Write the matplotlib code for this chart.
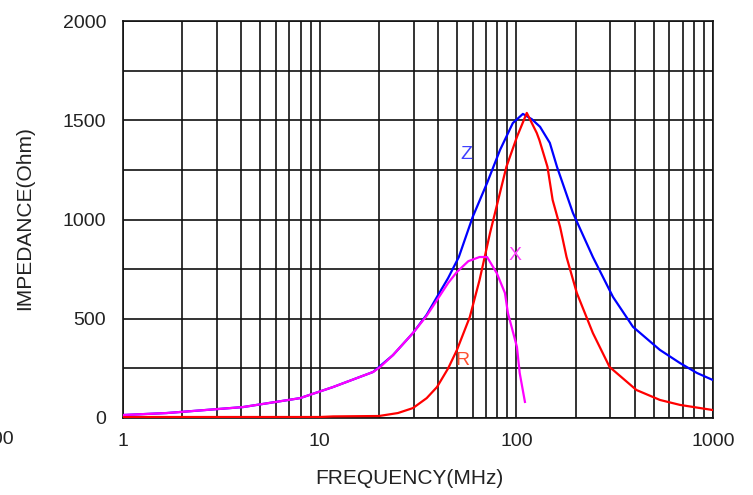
import matplotlib
matplotlib.use("Agg")
import matplotlib.pyplot as plt
import numpy as np

plt.rcParams['font.family'] = ['Liberation Sans', 'DejaVu Sans']

# Z (impedance)
z_freq = [1, 1.67, 4.07, 7.94, 11.7, 18.7, 23.6, 29.8, 35, 39.5, 45, 51, 60, 71, 82.6, 96, 108, 120, 132, 148, 161, 194, 245, 310, 392, 537, 679, 828, 1000]
z_vals = [15, 25, 55, 100, 156, 232, 317, 428, 520, 610, 705, 811, 1013, 1184, 1350, 1486, 1532, 1505, 1467, 1386, 1265, 1033, 811, 610, 459, 343, 277, 227, 191]

# R (resistance)
r_freq = [1, 5, 10, 11.7, 20, 25, 29.8, 35, 39.5, 45, 49.9, 58, 65, 73.5, 89, 100.7, 113, 127, 131, 144, 153, 167, 180, 203, 245, 298, 408, 537, 679, 861, 1000]
r_vals = [5, 5, 5, 8, 10, 25, 50, 100, 156, 250, 343, 509, 695, 932, 1265, 1416, 1537, 1436, 1400, 1265, 1098, 962, 811, 630, 428, 257, 141, 91, 66, 50, 40]

# X (reactance)
x_freq = [1, 1.67, 4.07, 7.94, 11.7, 18.7, 20.3, 23.6, 29.8, 35, 39.5, 45, 49.9, 57, 65, 71, 79.5, 87.5, 90.6, 100.7, 104, 110.6]
x_vals = [15, 25, 55, 100, 156, 232, 257, 317, 428, 515, 594, 680, 736, 790, 811, 811, 730, 630, 529, 358, 227, 81]

y_ticks = [0, 500, 1000, 1500, 2000]
x_ticks = [1, 10, 100, 1000]
x_tick_labels = ["1", "10", "100", "1000"]

fig = plt.figure(figsize=(7.53, 4.95), dpi=100)
ax = fig.add_axes([123/753, 1-418/495, (713-123)/753, (418-21)/495])

ax.plot(z_freq, z_vals, color='#0000FF', lw=1.6, zorder=3)
ax.plot(r_freq, r_vals, color='#FF0000', lw=1.6, zorder=4)
ax.plot(x_freq, x_vals, color='#FF00FF', lw=1.6, zorder=5)

ax.set_xscale('log')
ax.set_xlim(1, 1000)
ax.set_ylim(0, 2000)
ax.set_xticks(x_ticks)
ax.set_xticklabels(x_tick_labels)
ax.set_yticks(y_ticks)
ax.set_yticks(np.arange(0, 2001, 250), minor=True)
ax.xaxis.set_minor_formatter(matplotlib.ticker.NullFormatter())
ax.tick_params(which='both', length=0, labelsize=14, colors='#222222')
ax.tick_params(axis='y', pad=12)
ax.tick_params(axis='x', pad=11)
ax.grid(True, which='both', color='#111111', lw=1.2)
for s in ax.spines.values():
    s.set_color('#111111')
    s.set_linewidth(1.2)

fig.text(409/753, 1-478/495, 'FREQUENCY(MHz)', fontsize=15, color='#222222', ha='center', va='center')
fig.text(25/753, 1-218/495, 'IMPEDANCE(Ohm)', fontsize=15, color='#222222', ha='center', va='center', rotation=90)

ax.text(55.5, 1325, 'Z', color='#4040FF', fontsize=14, ha='center', va='center', zorder=6)
ax.text(98, 821, 'X', color='#FF40FF', fontsize=14, ha='center', va='center', zorder=6)
ax.text(53.5, 292, 'R', color='#FF5030', fontsize=14, ha='center', va='center', zorder=6)

fig.text(14/753, 1-440/495, '100', fontsize=14, color='#222222', ha='right', va='center')

fig.savefig('out.png', dpi=100)
